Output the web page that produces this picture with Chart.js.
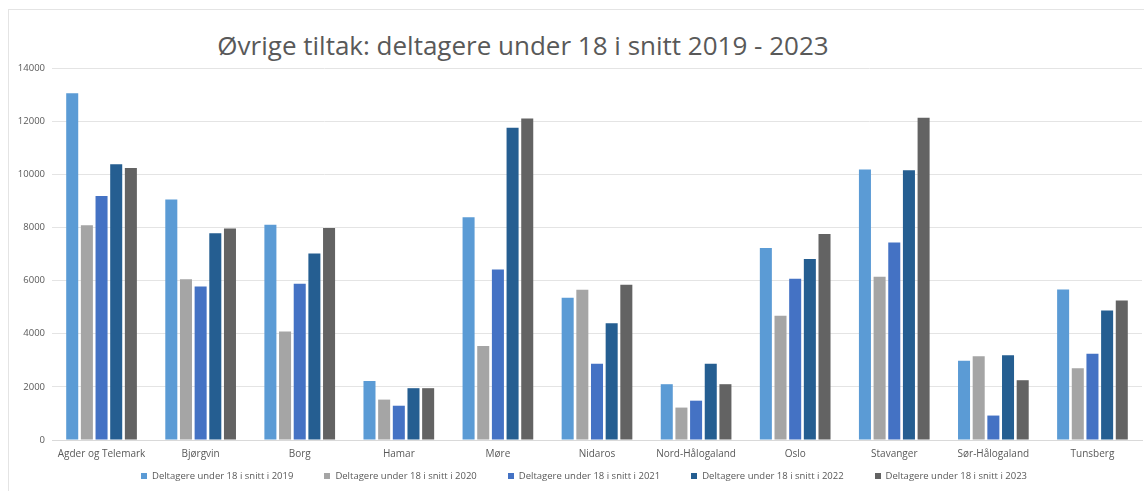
<!DOCTYPE html>
<html lang="no">
<head>
<meta charset="utf-8">
<title>Øvrige tiltak: deltagere under 18 i snitt 2019 - 2023</title>
<script src="https://cdn.jsdelivr.net/npm/chart.js@4/dist/chart.umd.min.js"></script>
<style>
  html, body { margin: 0; padding: 0; background: #fff; }
  #wrap { position: relative; width: 1144px; height: 491px; overflow: hidden; }
  #frame {
    position: absolute; left: 8px; top: 9px; right: -2px; bottom: -2px;
    border-left: 1px solid #e4e4e4; border-top: 1px solid #e4e4e4;
  }
  #title {
    position: absolute; left: 0; top: 28px; width: 1046px; text-align: center;
    font-family: "Open Sans", sans-serif; font-size: 26px; line-height: 34px;
    color: #595959;
  }
  #legend {
    position: absolute; left: 100px; width: 968px; top: 469px; height: 14px;
    display: flex; justify-content: center; gap: 31px;
    font-family: "Open Sans", sans-serif; font-size: 9.5px; line-height: 14px;
    color: #595959; white-space: nowrap;
  }
  #legend span.item { display: flex; align-items: center; }
  #legend span.box { display: inline-block; width: 6px; height: 6px; margin-right: 5px; }
  canvas { position: absolute; left: 0; top: 0; }
</style>
</head>
<body>
<div id="wrap">
  <div id="frame"></div>
  <div id="title">Øvrige tiltak: deltagere under 18 i snitt 2019 - 2023</div>
  <canvas id="chart"></canvas>
  <div id="legend"></div>
</div>
<script>
// Kategorier (bispedømmer)
const categories = [
  'Agder og Telemark', 'Bjørgvin', 'Borg', 'Hamar', 'Møre', 'Nidaros',
  'Nord-Hålogaland', 'Oslo', 'Stavanger', 'Sør-Hålogaland', 'Tunsberg'
]

// Deltagere under 18 i snitt, per år
const snitt2019 = [13050, 9050, 8100, 2220, 8380, 5350, 2100, 7230, 10180, 2980, 5660]
const snitt2020 = [8080, 6050, 4080, 1520, 3540, 5650, 1220, 4680, 6140, 3150, 2700]
const snitt2021 = [9180, 5780, 5880, 1290, 6420, 2870, 1480, 6070, 7430, 920, 3250]
const snitt2022 = [10380, 7780, 7020, 1950, 11750, 4390, 2870, 6810, 10150, 3190, 4870]
const snitt2023 = [10240, 7960, 7980, 1950, 12100, 5840, 2100, 7750, 12130, 2250, 5250]

const seriesLabels = [
  'Deltagere under 18 i snitt i 2019',
  'Deltagere under 18 i snitt i 2020',
  'Deltagere under 18 i snitt i 2021',
  'Deltagere under 18 i snitt i 2022',
  'Deltagere under 18 i snitt i 2023'
]
const seriesData = [snitt2019, snitt2020, snitt2021, snitt2022, snitt2023]
const seriesColors = ['#5B9BD5', '#A5A5A5', '#4472C4', '#255E91', '#636363']

const textColor = '#595959'
const fontFamily = '"Open Sans", sans-serif'

const datasets = seriesData.map((data, i) => ({
  label: seriesLabels[i],
  data: data,
  backgroundColor: seriesColors[i],
  borderWidth: 0,
  categoryPercentage: 0.74,
  barPercentage: 0.82
}))

const ctx = document.getElementById('chart').getContext('2d')

const chart = new Chart(ctx, {
  type: 'bar',
  data: {
    labels: categories,
    datasets: datasets
  },
  options: {
    responsive: true,
    maintainAspectRatio: false,
    animation: false,
    layout: {
      padding: { top: 68, right: 2, bottom: 23, left: 0 }
    },
    plugins: {
      title: { display: false },
      tooltip: { enabled: false },
      // legend is built as html below so the item spacing matches
      legend: { display: false }
    },
    scales: {
      x: {
        grid: { display: false, drawTicks: false },
        border: { display: true, color: '#d9d9d9' },
        ticks: {
          color: textColor,
          padding: 8,
          maxRotation: 0,
          autoSkip: false,
          font: { family: fontFamily, size: 10 }
        }
      },
      y: {
        min: 0,
        max: 14000,
        grid: { color: '#e4e4e4', drawTicks: false },
        border: { display: false },
        ticks: {
          stepSize: 2000,
          padding: 7,
          color: textColor,
          font: { family: fontFamily, size: 9.5 },
          callback: (value) => String(value)
        },
        afterFit: (scale) => { scale.width = 52 }
      }
    }
  }
})

// Legend from the chart's own datasets
const legendEl = document.getElementById('legend')
chart.data.datasets.forEach(ds => {
  const item = document.createElement('span')
  item.className = 'item'
  const box = document.createElement('span')
  box.className = 'box'
  box.style.background = ds.backgroundColor
  item.appendChild(box)
  item.appendChild(document.createTextNode(ds.label))
  legendEl.appendChild(item)
})
</script>
</body>
</html>
